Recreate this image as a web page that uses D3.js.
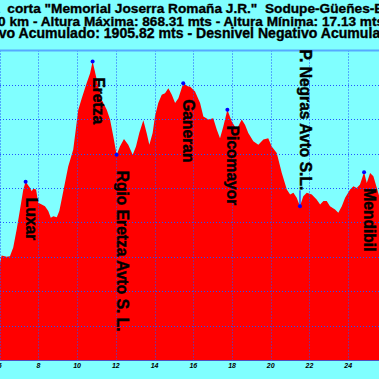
<!DOCTYPE html>
<html><head><meta charset="utf-8">
<script src="https://cdn.jsdelivr.net/npm/d3@7"></script>
<style>html,body{margin:0;padding:0;background:#80ffff;overflow:hidden}</style>
</head><body><svg id="c" width="379" height="379"></svg>
<script>
const titleLines = [
  'Perfil carrera  corta "Memorial Joserra Romaña J.R."  Sodupe-Güeñes-Bizkaia',
  'Distancia: 26.00 km - Altura Máxima: 868.31 mts - Altura Mínima: 17.13 mts',
  'Desnivel Positivo Acumulado: 1905.82 mts - Desnivel Negativo Acumulado: 1905.82 mts'
];
const titleAnchors = ['corta', 'km', 'Acumulado'];
const titleAnchors2 = ['Sodupe', 'Mínima', 'Negativo'];

const distKm = [6.00,6.10,6.36,6.53,6.70,6.88,7.05,7.22,7.34,7.57,7.65,7.74,7.88,7.99,8.17,8.34,8.51,8.64,8.77,8.95,
  9.08,9.20,9.37,9.54,9.72,9.80,10.06,10.24,10.49,10.67,10.80,10.98,11.09,11.27,11.53,11.70,11.87,12.04,12.21,12.42,
  12.64,12.87,13.04,13.21,13.42,13.59,13.73,13.90,14.02,14.19,14.37,14.54,14.71,14.89,15.06,15.23,15.48,15.74,15.83,16.09,
  16.35,16.52,16.78,17.03,17.21,17.38,17.55,17.76,17.98,18.24,18.50,18.67,18.84,19.10,19.36,19.62,19.87,20.05,20.31,20.57,
  20.83,21.00,21.17,21.34,21.51,21.68,21.86,22.12,22.37,22.55,22.72,22.89,23.06,23.32,23.49,23.67,23.84,24.10,24.27,24.44,
  24.61,24.82,24.96,25.13,25.30,25.48,25.65];
const altM = [278,304,300,302,327,380,438,496,518,500,491,498,496,457,452,447,433,414,418,415,
  433,467,515,563,597,612,728,761,805,834,868.31,824,795,757,728,699,650,597,621,643,
  626,597,621,660,697,660,626,660,708,747,771,776,790,771,747,761,805,795,795,781,
  747,708,699,703,670,645,679,728,694,670,699,684,660,636,626,641,645,621,602,544,
  496,481,486,472,447,476,486,481,467,452,462,462,447,438,428,447,472,496,505,500,
  510,546,515,544,534,500,467];

const wpNames = ['Luxar','Eretza','Rgio Eretza Avto S. L.','Ganeran','Picomayor','P. Negras Avto S.L.','Mendibil'];
const wpKm = [7.34,10.80,12.04,15.48,17.76,21.51,24.82];
const wpAlt = [518,868.31,597,805,728,447,546];
const wpAbove = [false,false,false,false,false,true,false];

const xTicks = [6,8,10,12,14,16,18,20,22,24,26];
const yGrid = [100,200,300,400,500,600,700,800];

const svg = d3.select('#c');
const x = d3.scaleLinear().domain([8,24]).range([38.4,348.2]);
const y = d3.scaleLinear().domain([0,900]).range([360,50.5]);
const FONT = 'Liberation Sans, Arial, sans-serif';

svg.append('rect').attr('width',379).attr('height',379).attr('fill','#80ffff');

const pts = distKm.map((d,i)=>[d,altM[i]]);
const area = d3.area().x(d=>x(d[0])).y0(y(0)).y1(d=>y(d[1]));
svg.append('path').datum(pts).attr('d',area).attr('fill','#ff0000');

// grid
svg.append('g').selectAll('line').data(yGrid).join('line')
  .attr('x1',0).attr('x2',379).attr('y1',d=>Math.round(y(d))+0.5).attr('y2',d=>Math.round(y(d))+0.5)
  .attr('stroke','#2255ff').attr('stroke-width',1).attr('stroke-dasharray','1,2');
svg.append('g').selectAll('line').data(xTicks).join('line')
  .attr('y1',y(900)).attr('y2',y(0)).attr('x1',d=>Math.round(x(d))+0.5).attr('x2',d=>Math.round(x(d))+0.5)
  .attr('stroke','#2255ff').attr('stroke-width',1).attr('stroke-dasharray','1,2');

// borders
svg.append('line').attr('x1',0).attr('x2',379).attr('y1',y(900)).attr('y2',y(900))
  .attr('stroke','#55aaff').attr('stroke-width',2);
svg.append('line').attr('x1',0).attr('x2',379).attr('y1',y(0)+0.5).attr('y2',y(0)+0.5)
  .attr('stroke','#5050c0').attr('stroke-width',1);

// x tick labels
svg.append('g').selectAll('text').data(xTicks).join('text')
  .attr('x',d=>x(d)).attr('y',367.5).attr('text-anchor','middle')
  .attr('font-family',FONT).attr('font-size',7)
  .attr('font-weight','bold').attr('font-style','italic').attr('fill','#000')
  .text(d=>d);

// waypoints
const wp = wpNames.map((n,i)=>({n,k:wpKm[i],a:wpAlt[i],up:wpAbove[i]}));
const g = svg.append('g');
wp.forEach(d=>{
  const px = x(d.k), py = y(d.a);
  if (d.up) {
    g.append('line').attr('x1',px).attr('x2',px).attr('y1',py-16).attr('y2',py)
      .attr('stroke','#0000ff').attr('stroke-width',1);
  }
  g.append('circle').attr('cx',px).attr('cy',py).attr('r',2).attr('fill','#0000ff');
  g.append('text')
    .attr('transform',`translate(${px},${d.up ? py-16 : py+16}) rotate(90)`)
    .attr('text-anchor', d.up ? 'end' : 'start')
    .attr('font-family',FONT).attr('font-size',15.6)
    .attr('font-weight','bold').attr('fill','#000')
    .attr('stroke','#000').attr('stroke-width',0.45)
    .text(d.n);
});

// title: fit each line between two anchor words
const anchorX = [7.3, 9.5, 18.5];
const anchorX2 = [265, 266.7, 258];
const baseY = [13.3, 26, 38.3];
titleLines.forEach((t,i)=>{
  const el = svg.append('text').attr('x',0).attr('y',baseY[i])
    .attr('font-family',FONT).attr('font-size',13.6)
    .attr('font-weight','bold').attr('fill','#000')
    .attr('stroke','#000').attr('stroke-width',0.35)
    .style('white-space','pre').text(t);
  const i1 = t.indexOf(titleAnchors[i]);
  const i2 = t.indexOf(titleAnchors2[i]);
  let w1 = el.node().getSubStringLength(0, i1);
  let w2 = el.node().getSubStringLength(0, i2);
  const fs = 13.6 * (anchorX2[i]-anchorX[i]) / (w2 - w1);
  el.attr('font-size', fs);
  w1 = el.node().getSubStringLength(0, i1);
  el.attr('x', anchorX[i] - w1);
});
</script></body></html>
